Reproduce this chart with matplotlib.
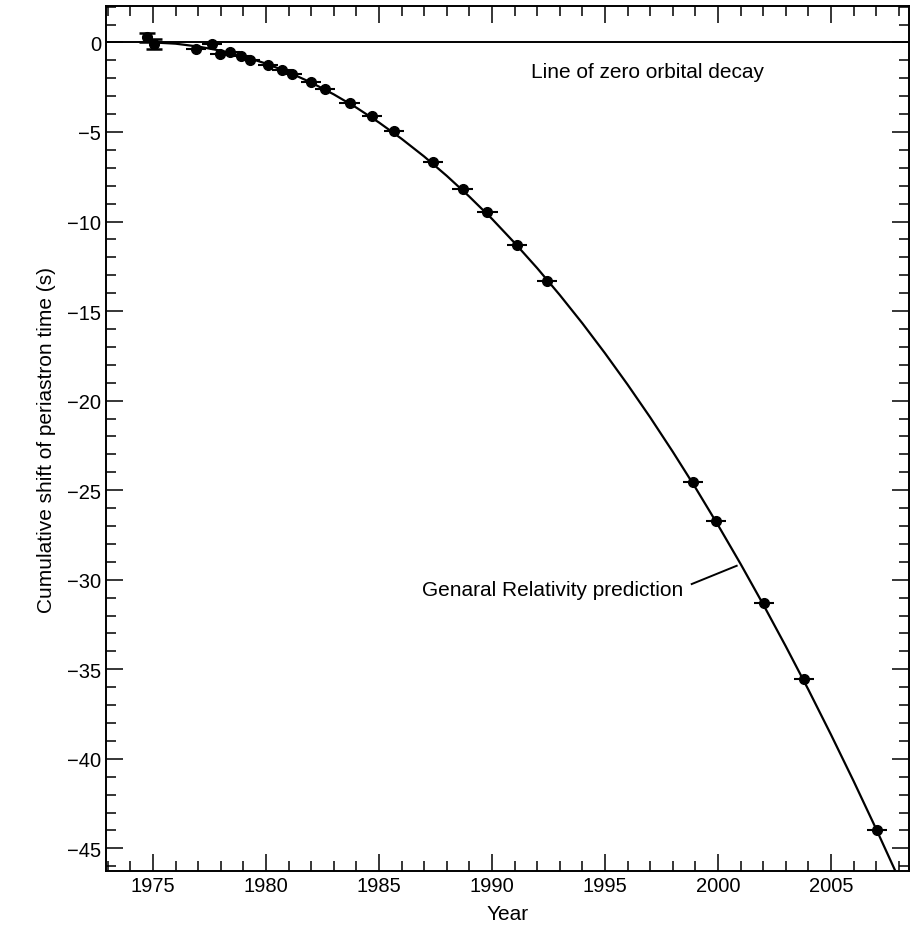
import numpy as np
import matplotlib.pyplot as plt
from matplotlib.ticker import MultipleLocator

plt.rcParams['font.family'] = ['Liberation Sans', 'DejaVu Sans']

obs_year = [1976.9, 1977.6, 1977.95, 1978.4, 1978.9, 1979.3, 1980.1, 1980.7, 1981.15,
            1982.0, 1982.6, 1983.7, 1984.7, 1985.65, 1987.4, 1988.7, 1989.8, 1991.1,
            1992.45, 1998.9, 1999.9, 2002.05, 2003.8, 2007.05]
obs_shift = [-0.38, -0.08, -0.62, -0.52, -0.75, -0.98, -1.26, -1.52, -1.75,
             -2.22, -2.6, -3.37, -4.13, -4.93, -6.67, -8.19, -9.46, -11.3,
             -13.31, -24.57, -26.71, -31.31, -35.55, -43.95]

# first two points with large vertical errors
early_year = [1974.72, 1975.05]
early_shift = [0.28, -0.1]
early_err = [0.25, 0.27]

# GR prediction curve read at whole years
gr_year = np.arange(1975, 2009)
gr_shift = [0.0, -0.07, -0.23, -0.46, -0.78, -1.18, -1.67, -2.24, -2.9, -3.64,
            -4.47, -5.38, -6.37, -7.45, -8.61, -9.85, -11.19, -12.6, -14.1, -15.68,
            -17.35, -19.1, -20.93, -22.85, -24.85, -26.94, -29.11, -31.37, -33.71, -36.13,
            -38.64, -41.23, -43.91, -46.67]

fig = plt.figure(figsize=(9.22, 9.29), dpi=100)
ax = fig.add_axes([0.115, 0.061, 0.871, 0.931])

ax.axhline(0, color='black', lw=1.4, zorder=1)
ax.plot(gr_year, gr_shift, color='black', lw=1.6, zorder=2)

ax.errorbar(obs_year, obs_shift, xerr=0.45, fmt='o', color='black', ms=7,
            elinewidth=1.5, capsize=0, zorder=3)
ax.errorbar(early_year, early_shift, yerr=early_err, fmt='o', color='black', ms=7,
            elinewidth=1.5, capsize=6, capthick=1.8, zorder=3)

ax.text(1996.9, -1.6, 'Line of zero orbital decay', fontsize=15, ha='center', va='center')
ax.text(1998.45, -30.55, 'Genaral Relativity prediction', fontsize=15, ha='right', va='center')
ax.plot([1998.84, 2000.83], [-30.24, -29.22], color='black', lw=1.4)

ax.set_xlim(1972.92, 2008.46)
ax.set_ylim(-46.28, 2.01)
ax.xaxis.set_major_locator(MultipleLocator(5))
ax.xaxis.set_minor_locator(MultipleLocator(1))
ax.yaxis.set_major_locator(MultipleLocator(5))
ax.yaxis.set_minor_locator(MultipleLocator(1))
ax.tick_params(which='both', direction='in', top=True, right=True, width=1.1, labelsize=14.5)
ax.tick_params(which='major', length=12)
ax.tick_params(which='minor', length=7)
for s in ax.spines.values():
    s.set_linewidth(1.4)

ax.set_xlabel('Year', fontsize=15, labelpad=6)
ax.set_ylabel('Cumulative shift of periastron time (s)', fontsize=15, labelpad=8)

fig.savefig('out.png', dpi=100)
